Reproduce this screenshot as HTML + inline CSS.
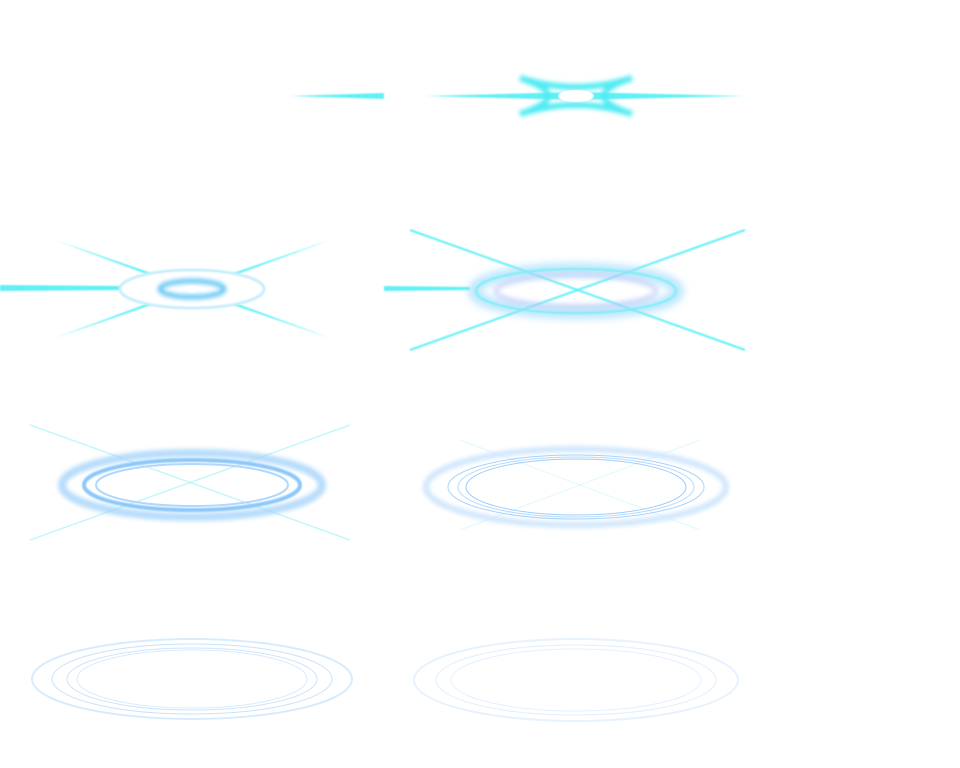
<!DOCTYPE html>
<html><head><meta charset="utf-8"><style>
html,body{margin:0;padding:0;background:#fff;width:960px;height:768px;overflow:hidden}
svg{display:block}
</style></head><body>
<svg width="960" height="768" viewBox="0 0 960 768">
<defs>
<filter id="b2" filterUnits="userSpaceOnUse" x="0" y="0" width="960" height="768"><feGaussianBlur stdDeviation="2"/></filter>
<filter id="b4" filterUnits="userSpaceOnUse" x="0" y="0" width="960" height="768"><feGaussianBlur stdDeviation="4"/></filter>
<filter id="b1" filterUnits="userSpaceOnUse" x="0" y="0" width="960" height="768"><feGaussianBlur stdDeviation="0.8"/></filter>
</defs>

<g>
<polygon points="290,96 384,93 384,99" fill="#5ff0f5" filter="url(#b1)"/>
</g>

<g>
<polygon points="425,96 576,92 745,96 576,100" fill="#5ff0f5" filter="url(#b1)"/>
<path d="M520,78 Q576,96 632,78 Q576,96 632,114 Q576,96 520,114 Q576,96 520,78Z" fill="none" stroke="#4febf3" stroke-width="6" filter="url(#b2)"/>
<ellipse cx="576" cy="96" rx="18" ry="6" fill="#fff"/>
</g>

<g>
<polygon points="0,285 125,286 125,290 0,291" fill="#5ff0f5" filter="url(#b1)"/>
<polygon points="55,240 192,287 330,338 192,291" fill="#5ff0f5" filter="url(#b1)"/>
<polygon points="55,338 192,287 330,240 192,291" fill="#5ff0f5" filter="url(#b1)"/>
<ellipse cx="192" cy="289" rx="72" ry="19" fill="#fff" stroke="#c9eefc" stroke-width="3" filter="url(#b1)"/>
<ellipse cx="192" cy="289" rx="32" ry="8" fill="none" stroke="#6cc9f5" stroke-width="5" filter="url(#b2)"/>
<ellipse cx="192" cy="289" rx="8" ry="3" fill="#fff"/>
</g>

<g>
<polygon points="384,286 470,287 470,290 384,291" fill="#5ff0f5" filter="url(#b1)"/>
<line x1="410" y1="230" x2="745" y2="350" stroke="#5ff0f5" stroke-width="2" filter="url(#b1)"/>
<line x1="410" y1="350" x2="745" y2="230" stroke="#5ff0f5" stroke-width="2" filter="url(#b1)"/>
<ellipse cx="576" cy="291" rx="102" ry="22" fill="none" stroke="#9fdcfb" stroke-width="12" filter="url(#b4)" opacity="0.7"/>
<ellipse cx="576" cy="291" rx="100" ry="22" fill="none" stroke="#7af0f5" stroke-width="2" filter="url(#b1)"/>
<ellipse cx="576" cy="291" rx="80" ry="16" fill="none" stroke="#b9c4f5" stroke-width="6" filter="url(#b2)" opacity="0.5"/>
</g>

<g>
<line x1="30" y1="425" x2="350" y2="540" stroke="#9ff2f7" stroke-width="1.5" opacity="0.6"/>
<line x1="30" y1="540" x2="350" y2="425" stroke="#9ff2f7" stroke-width="1.5" opacity="0.6"/>
<ellipse cx="192" cy="485" rx="130" ry="32" fill="none" stroke="#9ed0fb" stroke-width="8" filter="url(#b2)" opacity="0.75"/>
<ellipse cx="192" cy="485" rx="108" ry="25" fill="none" stroke="#8cc8fa" stroke-width="4" filter="url(#b1)"/>
<ellipse cx="192" cy="485" rx="96" ry="21" fill="none" stroke="#b0d8fc" stroke-width="2"/>
</g>

<g>
<line x1="460" y1="440" x2="700" y2="530" stroke="#c8f4f8" stroke-width="1" opacity="0.6"/>
<line x1="460" y1="530" x2="700" y2="440" stroke="#c8f4f8" stroke-width="1" opacity="0.6"/>
<ellipse cx="576" cy="487" rx="150" ry="38" fill="none" stroke="#cfe6fd" stroke-width="6" filter="url(#b2)"/>
<ellipse cx="576" cy="487" rx="128" ry="32" fill="none" stroke="#a8d2fb" stroke-width="1"/>
<ellipse cx="576" cy="487" rx="118" ry="30" fill="none" stroke="#b8dafc" stroke-width="1"/>
<ellipse cx="576" cy="487" rx="110" ry="28" fill="none" stroke="#9fcdfb" stroke-width="1"/>
</g>

<g>
<ellipse cx="192" cy="679" rx="160" ry="40" fill="none" stroke="#d8ebfd" stroke-width="2"/>
<ellipse cx="192" cy="679" rx="140" ry="35" fill="none" stroke="#c6e2fc" stroke-width="1"/>
<ellipse cx="192" cy="679" rx="125" ry="31" fill="none" stroke="#cce5fc" stroke-width="1"/>
<ellipse cx="192" cy="679" rx="115" ry="29" fill="none" stroke="#d8ebfd" stroke-width="1"/>
</g>

<g>
<ellipse cx="576" cy="680" rx="162" ry="41" fill="none" stroke="#e6f2fe" stroke-width="2"/>
<ellipse cx="576" cy="680" rx="140" ry="35" fill="none" stroke="#e0eefd" stroke-width="1"/>
<ellipse cx="576" cy="680" rx="125" ry="31" fill="none" stroke="#e3f0fe" stroke-width="1"/>
</g>
</svg>
</body></html>
